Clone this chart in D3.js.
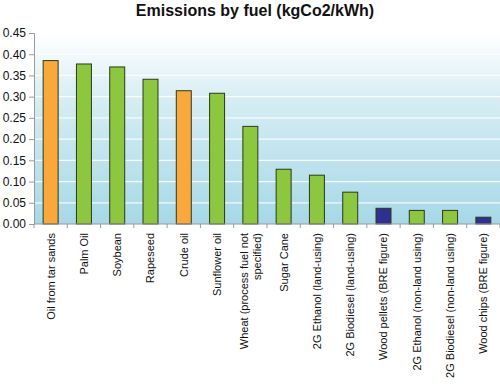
<!DOCTYPE html>
<html><head><meta charset="utf-8">
<script src="https://cdn.jsdelivr.net/npm/d3@7"></script>
<style>body{margin:0;background:#fff;}svg{display:block;font-family:"Liberation Sans",Arial,sans-serif;}</style>
</head><body><svg id="c" width="500" height="384"></svg>
<script>
const categories = ["Oil from tar sands","Palm Oil","Soybean","Rapeseed","Crude oil","Sunflower oil","Wheat (process fuel not specified)","Sugar Cane","2G Ethanol (land-using)","2G Biodiesel (land-using)","Wood pellets (BRE figure)","2G Ethanol (non-land using)","2G Biodiesel (non-land using)","Wood chips (BRE figure)"];
const values = [0.385,0.377,0.370,0.341,0.314,0.308,0.230,0.129,0.115,0.075,0.037,0.032,0.032,0.016];
const groups = ["fossil","bio","bio","bio","fossil","bio","bio","bio","bio","bio","wood","bio","bio","wood"];
const yTicks = [0,0.05,0.10,0.15,0.20,0.25,0.30,0.35,0.40,0.45];
const title = "Emissions by fuel (kgCo2/kWh)";
const colors = {fossil:"#F9A83C", bio:"#8DC63F", wood:"#2E3192"};

const svg = d3.select("#c");
const m = {l:34, r:0, t:33, b:160};
const W = 500, H = 384;
const x = d3.scaleBand().domain(categories).range([m.l, W - m.r]).paddingInner(0.55).paddingOuter(0.275);
const y = d3.scaleLinear().domain([0,0.45]).range([224, 33]);

const defs = svg.append("defs");
const g = defs.append("linearGradient").attr("id","bg").attr("x1",0).attr("y1",0).attr("x2",0).attr("y2",1);
g.append("stop").attr("offset","0%").attr("stop-color","#ffffff");
g.append("stop").attr("offset","35%").attr("stop-color","#d6edf4");
g.append("stop").attr("offset","100%").attr("stop-color","#a6d8e7");
svg.append("rect").attr("x",m.l).attr("y",y(0.45)).attr("width",W-m.l).attr("height",y(0)-y(0.45)).attr("fill","url(#bg)");

// gridlines
svg.append("g").selectAll("line").data(yTicks.slice(1)).join("line")
  .attr("x1",m.l).attr("x2",W).attr("y1",d=>y(d)).attr("y2",d=>y(d))
  .attr("stroke","#ffffff").attr("stroke-width",1.2).attr("opacity",0.85);

// bars
svg.append("g").selectAll("rect").data(values).join("rect")
  .attr("x",(d,i)=>x(categories[i])).attr("width",x.bandwidth())
  .attr("y",d=>y(d)).attr("height",d=>y(0)-y(d))
  .attr("fill",(d,i)=>colors[groups[i]]).attr("stroke","#2a3a1a").attr("stroke-width",1);

// y axis
const ya = svg.append("g").attr("transform",`translate(${m.l},0)`)
  .call(d3.axisLeft(y).tickValues(yTicks).tickFormat(d3.format(".2f")).tickSize(5).tickPadding(3));
ya.select(".domain").attr("stroke","#9a9a9a");
ya.selectAll(".tick line").attr("stroke","#9a9a9a");
ya.selectAll("text").attr("font-size",12).attr("fill","#111").attr("font-family","Liberation Sans, Arial, sans-serif");

// x axis
const step = x.step();
const xa = svg.append("g").attr("transform",`translate(0,${y(0)})`);
xa.append("line").attr("x1",m.l).attr("x2",W).attr("stroke","#9a9a9a");
xa.selectAll("line.t").data(d3.range(categories.length+1)).join("line").attr("class","t")
  .attr("x1",i=>m.l+i*step).attr("x2",i=>m.l+i*step).attr("y1",0).attr("y2",4).attr("stroke","#9a9a9a");

const labelLines = c => c.startsWith("Wheat") ? ["Wheat (process fuel not","specified)"] : [c];
categories.forEach((c,i)=>{
  const cx = x(c) + x.bandwidth()/2;
  const lines = labelLines(c);
  const t = xa.append("text").attr("transform",`translate(${cx},9) rotate(-90)`)
    .attr("text-anchor","end").attr("font-size",11).attr("fill","#111");
  lines.forEach((l,j)=>{
    t.append("tspan").attr("x",0).attr("dy", j===0 ? (0.35 - (lines.length-1)*0.55)+"em" : "1.15em").text(l);
  });
});

svg.append("text").attr("x",255).attr("y",16).attr("text-anchor","middle")
  .attr("font-size",16).attr("font-weight","bold").attr("fill","#111").text(title);
</script></body></html>
